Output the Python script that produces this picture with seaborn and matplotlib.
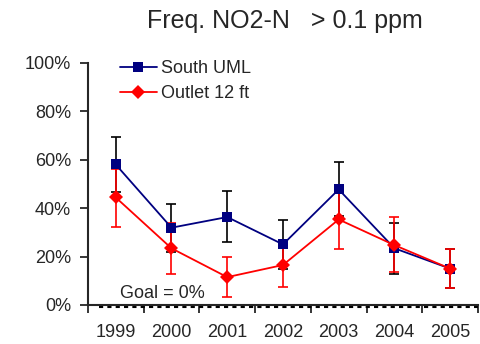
import matplotlib
matplotlib.use("Agg")
import matplotlib.pyplot as plt
import matplotlib.transforms as mtransforms
import seaborn as sns
import pandas as pd
import numpy as np

years = ["1999", "2000", "2001", "2002", "2003", "2004", "2005"]
south_uml = [58.0, 31.9, 36.3, 25.0, 47.7, 23.4, 15.0]
south_lo = [46.5, 22.0, 25.9, 14.8, 36.6, 12.8, 6.9]
south_hi = [69.4, 41.8, 46.9, 34.9, 59.0, 34.0, 23.1]
outlet = [44.4, 23.4, 11.5, 16.5, 35.3, 24.7, 15.0]
outlet_lo = [32.3, 12.8, 3.4, 7.4, 23.2, 13.7, 6.9]
outlet_hi = [56.0, 34.0, 19.7, 25.0, 47.0, 36.2, 23.1]
yticks = [0, 20, 40, 60, 80, 100]
title = "Freq. NO2-N   > 0.1 ppm"
goal_text = "Goal = 0%"
goal_value = 0

sns.set_style("ticks")
plt.rcParams['font.family'] = ['Liberation Sans', 'DejaVu Sans']

fig = plt.figure(figsize=(4.8, 3.44), dpi=100)
ax = fig.add_axes([0.183, 0.1134, 0.813, 0.7043])

pos = np.arange(len(years))
df = pd.DataFrame({
    "pos": np.concatenate([pos, pos]),
    "value": south_uml + outlet,
    "series": ["South UML"] * len(years) + ["Outlet 12 ft"] * len(years),
})

# error bars
ax.errorbar(pos, south_uml, yerr=[np.array(south_uml) - np.array(south_lo), np.array(south_hi) - np.array(south_uml)],
            fmt="none", ecolor="black", elinewidth=1.2, capsize=3.3, capthick=1.2, zorder=2)
ax.errorbar(pos, outlet, yerr=[np.array(outlet) - np.array(outlet_lo), np.array(outlet_hi) - np.array(outlet)],
            fmt="none", ecolor="#ff0000", elinewidth=1.2, capsize=3.3, capthick=1.2, zorder=3)

sns.lineplot(data=df, x="pos", y="value", hue="series", style="series",
             hue_order=["South UML", "Outlet 12 ft"],
             palette={"South UML": "#000080", "Outlet 12 ft": "#ff0000"},
             markers={"South UML": "s", "Outlet 12 ft": "D"},
             dashes=False, markersize=7.5, linewidth=1.3, markeredgewidth=0,
             ax=ax, zorder=4, legend=True)

# goal line drawn slightly below the axis line
off = mtransforms.offset_copy(ax.transData, fig=fig, x=0, y=-1.5, units="points")
ax.plot([-0.3, len(years) - 0.5], [goal_value, goal_value], color="black", linestyle=(0, (2, 2)),
        linewidth=1.5, zorder=1, clip_on=False, transform=off)

ax.set_xlim(-0.5, len(years) - 0.5)
ax.set_ylim(0, 100)
ax.set_yticks(yticks)
ax.set_yticklabels([f"{v}%" for v in yticks], fontsize=13)
ax.set_xticks(np.arange(-0.5, len(years), 1.0))
ax.set_xticklabels([])
ax.set_xticks(pos, minor=True)
ax.set_xticklabels(years, minor=True, fontsize=13)
ax.tick_params(axis="x", which="minor", length=0, pad=14)
ax.tick_params(axis="x", which="major", length=6, width=1.3, direction="out")
ax.tick_params(axis="y", length=6, width=1.3, direction="out", pad=6)
ax.set_xlabel("")
ax.set_ylabel("")
for s in ["top", "right"]:
    ax.spines[s].set_visible(False)
for s in ["left", "bottom"]:
    ax.spines[s].set_linewidth(1.5)
    ax.spines[s].set_zorder(5)

ax.text(0.08, 1.2, goal_text, fontsize=13, ha="left", va="bottom", transform=ax.transData)

leg = ax.legend(loc="upper left", bbox_to_anchor=(0.065, 1.04), frameon=False, fontsize=13,
                handlelength=2.0, handletextpad=0.25, labelspacing=0.45, borderaxespad=0)

fig.text(0.594, 0.94, title, fontsize=18, ha="center", va="center")

fig.savefig("out.png", dpi=100)
